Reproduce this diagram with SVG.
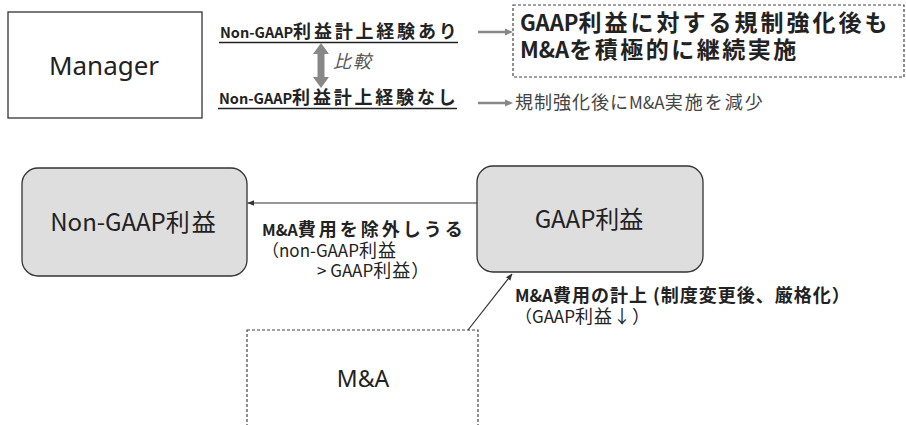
<svg xmlns="http://www.w3.org/2000/svg" width="906" height="425" viewBox="0 0 906 425">
<style>
text{font-family:"Noto Sans CJK JP","Noto Sans",sans-serif;fill:#222}
.lat{font-family:"Noto Sans","Noto Sans CJK JP",sans-serif}
.b{font-weight:bold}
.box{fill:#fff;stroke:#333;stroke-width:1.3}
.rbox{fill:#dedede;stroke:#333;stroke-width:1.3}
.dash{fill:none;stroke:#444;stroke-width:1.2;stroke-dasharray:3 2}
.ul{stroke:#222;stroke-width:1.6}
.garrow{stroke:#888;stroke-width:2.5}
.conn{stroke:#333;stroke-width:1.2;fill:none;marker-end:url(#ah)}
</style>
<defs>
<marker id="ah" viewBox="0 0 10 10" refX="9" refY="5" markerWidth="7" markerHeight="7" orient="auto" markerUnits="userSpaceOnUse">
<path d="M0,1 L10,5 L0,9 z" fill="#333"/>
</marker>
</defs>

<g id="manager">
<rect class="box" x="8" y="12" width="194" height="106"/>
<text class="lat" x="104" y="75" font-size="26" text-anchor="middle">Manager</text>
</g>

<g id="label-yes">
<text class="b" x="220" y="38"><tspan font-size="14.5">Non-GAAP</tspan><tspan font-size="18" letter-spacing="2.8">利益計上経験あり</tspan></text>
<line class="ul" x1="219" y1="42.5" x2="458" y2="42.5"/>
</g>

<g id="label-no">
<text class="b" x="219" y="104"><tspan font-size="14.5">Non-GAAP</tspan><tspan font-size="18" letter-spacing="2.8">利益計上経験なし</tspan></text>
<line class="ul" x1="218" y1="108.5" x2="457" y2="108.5"/>
</g>

<g id="compare">
<polygon points="321,43 329,54 324.5,54 324.5,77 329,77 321,88 313,77 317.5,77 317.5,54 313,54" fill="#888"/>
<text x="333" y="68" font-size="18" font-style="italic" style="fill:#555" letter-spacing="2">比較</text>
</g>

<g id="result-yes">
<rect class="dash" x="513" y="5" width="391" height="72"/>
<text class="b" x="520" y="31"><tspan font-size="22">GAAP</tspan><tspan font-size="23" letter-spacing="3">利益に対する規制強化後も</tspan></text>
<text class="b" x="520" y="58"><tspan font-size="22">M&amp;A</tspan><tspan font-size="23" letter-spacing="2.5">を積極的に継続実施</tspan></text>
</g>

<g id="result-no">
<text x="515" y="109" font-size="18" style="fill:#444"><tspan letter-spacing="1">規制強化後に</tspan><tspan font-size="17">M&amp;A</tspan><tspan letter-spacing="2">実施を減少</tspan></text>
</g>

<g id="nongaap">
<rect class="rbox" x="22" y="168" width="225" height="108" rx="16"/>
<text x="134" y="231" font-size="24" text-anchor="middle"><tspan>Non-GAAP</tspan><tspan letter-spacing="2">利益</tspan></text>
</g>

<g id="gaap">
<rect class="rbox" x="477" y="166" width="226" height="106" rx="16"/>
<text x="589" y="228" font-size="24" text-anchor="middle">GAAP利益</text>
</g>

<g id="ma">
<rect class="dash" x="247" y="330" width="231" height="110"/>
<text class="lat" x="363" y="387" font-size="23" text-anchor="middle">M&amp;A</text>
</g>

<g id="connectors">
<line class="garrow" x1="478" y1="32" x2="506" y2="32"/>
<polygon points="505,28.5 513,32 505,35.5" fill="#888"/>
<line class="garrow" x1="478" y1="103" x2="506" y2="103"/>
<polygon points="505,99.5 513,103 505,106.5" fill="#888"/>
<line class="conn" x1="477" y1="203" x2="248" y2="203"/>
<line class="conn" x1="468" y1="330" x2="512" y2="274"/>
</g>

<g id="edge-labels">
<text class="b" x="262" y="236"><tspan font-size="16">M&amp;A</tspan><tspan font-size="18" letter-spacing="3">費用を除外しうる</tspan></text>
<text x="262" y="257" font-size="17"><tspan>（non-GAAP</tspan><tspan font-size="18" letter-spacing="1">利益</tspan></text>
<text x="317" y="277" font-size="17"><tspan>&gt; GAAP</tspan><tspan font-size="18" letter-spacing="1">利益）</tspan></text>
<text class="b" x="515" y="302"><tspan font-size="17">M&amp;A</tspan><tspan font-size="18" letter-spacing="1">費用の計上 (制度変更後、厳格化）</tspan></text>
<text x="515" y="323" font-size="18"><tspan font-size="17">（GAAP</tspan><tspan letter-spacing="1">利益↓）</tspan></text>
</g>
</svg>
